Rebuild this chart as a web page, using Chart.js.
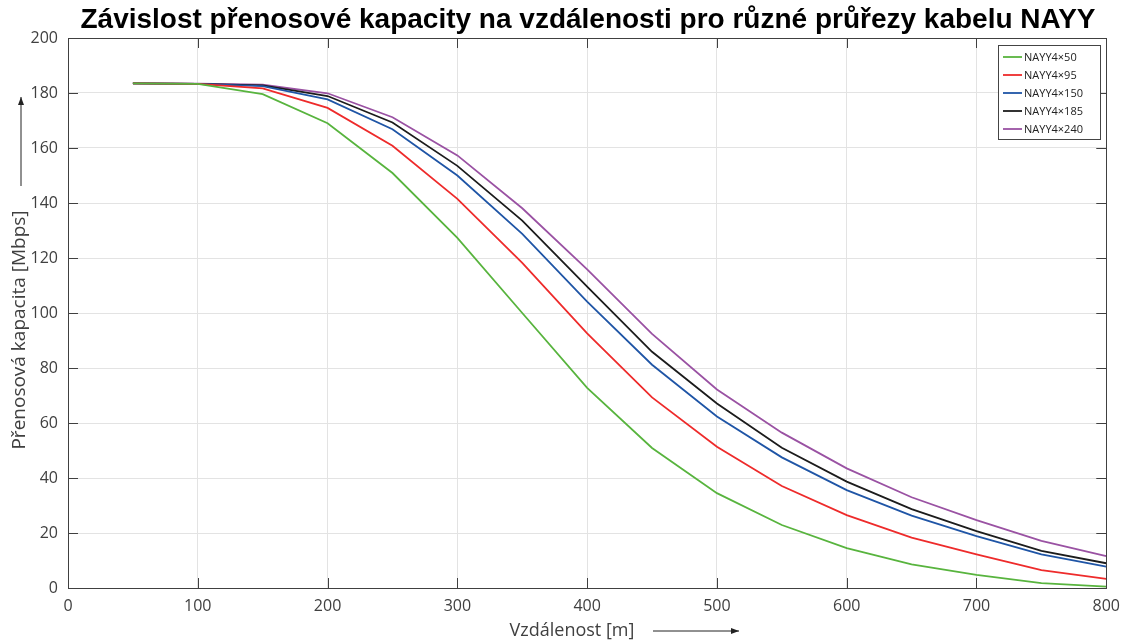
<!DOCTYPE html>
<html>
<head>
<meta charset="utf-8">
<script src="https://cdn.jsdelivr.net/npm/chart.js@4/dist/chart.umd.min.js"></script>
<style>
  html, body { margin: 0; padding: 0; background: #fff; }
  #wrap { width: 1129px; height: 642px; position: relative; }
</style>
</head>
<body>
<div id="wrap"><canvas id="chart"></canvas></div>
<script>
// distances [m]
const distances = [50, 100, 150, 200, 250, 300, 350, 400, 450, 500, 550, 600, 650, 700, 750, 800];

// capacity [Mbps] per cable cross-section
const nayy50  = [183.5, 183.3, 179.6, 169.0, 150.9, 127.3, 100.0, 72.8, 50.9, 34.5, 22.9, 14.5, 8.6, 4.8, 1.8, 0.5];
const nayy95  = [183.5, 183.3, 181.7, 174.6, 160.8, 141.5, 118.2, 92.6, 69.3, 51.4, 37.1, 26.5, 18.3, 12.2, 6.5, 3.3];
const nayy150 = [183.5, 183.3, 182.5, 177.7, 166.8, 150.0, 128.8, 104.1, 81.2, 62.4, 47.5, 35.6, 26.3, 18.9, 12.2, 7.8];
const nayy185 = [183.5, 183.3, 182.8, 178.9, 169.3, 153.5, 133.6, 109.6, 85.9, 67.1, 51.0, 38.7, 28.7, 20.7, 13.5, 9.0];
const nayy240 = [183.5, 183.4, 183.0, 179.9, 171.2, 157.3, 138.1, 115.9, 92.4, 72.2, 56.5, 43.5, 33.0, 24.7, 17.1, 11.6];

const seriesNames = ['NAYY4×50', 'NAYY4×95', 'NAYY4×150', 'NAYY4×185', 'NAYY4×240'];
const seriesColors = ['#58b43e', '#ee2b2b', '#1f55a6', '#1c1c1c', '#9a52a3'];
const seriesValues = [nayy50, nayy95, nayy150, nayy185, nayy240];

const xTicks = [0, 100, 200, 300, 400, 500, 600, 700, 800];
const yTicks = [0, 20, 40, 60, 80, 100, 120, 140, 160, 180, 200];

const titleText = 'Závislost přenosové kapacity na vzdálenosti pro různé průřezy kabelu NAYY';
const xLabel = 'Vzdálenost [m]';
const yLabel = 'Přenosová kapacita [Mbps]';

const labelFont = '"Open Sans", "Noto Sans", sans-serif';
const axisColor = '#404040';

const datasets = seriesNames.map((name, i) => ({
  label: name,
  data: distances.map((d, j) => ({ x: d, y: seriesValues[i][j] })),
  borderColor: seriesColors[i],
  backgroundColor: seriesColors[i],
  borderWidth: 1.8,
  pointRadius: 0,
  tension: 0,
  fill: false
}));

// box, inward ticks, title, axis labels with arrows, legend
const decorations = {
  id: 'decorations',
  afterDatasetsDraw(chart) {
    const { ctx, chartArea: a, scales: { x, y } } = chart;
    ctx.save();

    // box
    ctx.strokeStyle = axisColor;
    ctx.lineWidth = 1;
    ctx.strokeRect(Math.round(a.left) + 0.5, Math.round(a.top) + 0.5,
      Math.round(a.right - a.left), Math.round(a.bottom - a.top));

    // inward ticks
    const tl = 10;
    ctx.beginPath();
    xTicks.forEach(v => {
      const px = Math.round(x.getPixelForValue(v)) + 0.5;
      ctx.moveTo(px, a.bottom); ctx.lineTo(px, a.bottom - tl);
      ctx.moveTo(px, a.top); ctx.lineTo(px, a.top + tl);
    });
    yTicks.forEach(v => {
      const py = Math.round(y.getPixelForValue(v)) + 0.5;
      ctx.moveTo(a.left, py); ctx.lineTo(a.left + tl, py);
      ctx.moveTo(a.right, py); ctx.lineTo(a.right - tl, py);
    });
    ctx.stroke();

    // title
    ctx.fillStyle = '#000';
    ctx.font = 'bold 28px "Liberation Sans", Arial, sans-serif';
    ctx.textAlign = 'center';
    ctx.textBaseline = 'middle';
    ctx.fillText(titleText, 588, 20);

    // x label + arrow
    ctx.fillStyle = axisColor;
    ctx.font = '18px ' + labelFont;
    ctx.textAlign = 'center';
    ctx.fillText(xLabel, 572, 631);
    arrow(ctx, 653, 631, 739, 631);

    // y label + arrow
    ctx.font = '19px ' + labelFont;
    ctx.save();
    ctx.translate(20, 330);
    ctx.rotate(-Math.PI / 2);
    ctx.fillText(yLabel, 0, 0);
    ctx.restore();
    arrow(ctx, 21, 186, 21, 97);

    // legend
    const lx = 998, ly = 45, lw = 102, rowH = 18;
    const lh = rowH * chart.data.datasets.length + 4;
    ctx.fillStyle = '#fff';
    ctx.fillRect(lx, ly, lw, lh);
    ctx.strokeStyle = '#444';
    ctx.lineWidth = 1;
    ctx.strokeRect(lx + 0.5, ly + 0.5, lw, lh);
    ctx.font = '11px ' + labelFont;
    ctx.textAlign = 'left';
    chart.data.datasets.forEach((ds, i) => {
      const cy = ly + 12 + i * rowH;
      ctx.strokeStyle = ds.borderColor;
      ctx.lineWidth = 1.8;
      ctx.beginPath();
      ctx.moveTo(lx + 5, cy); ctx.lineTo(lx + 24, cy);
      ctx.stroke();
      ctx.fillStyle = '#222';
      ctx.fillText(ds.label, lx + 26, cy + 1);
    });

    ctx.restore();
  }
};

function arrow(ctx, x1, y1, x2, y2) {
  ctx.save();
  ctx.strokeStyle = '#222';
  ctx.fillStyle = '#222';
  ctx.lineWidth = 1;
  ctx.beginPath();
  ctx.moveTo(x1, y1); ctx.lineTo(x2, y2);
  ctx.stroke();
  const ang = Math.atan2(y2 - y1, x2 - x1);
  const len = 8, w = 3;
  ctx.beginPath();
  ctx.moveTo(x2, y2);
  ctx.lineTo(x2 - len * Math.cos(ang) + w * Math.sin(ang), y2 - len * Math.sin(ang) - w * Math.cos(ang));
  ctx.lineTo(x2 - len * Math.cos(ang) - w * Math.sin(ang), y2 - len * Math.sin(ang) + w * Math.cos(ang));
  ctx.closePath();
  ctx.fill();
  ctx.restore();
}

new Chart(document.getElementById('chart'), {
  type: 'line',
  data: { datasets },
  options: {
    responsive: true,
    maintainAspectRatio: false,
    animation: false,
    layout: { padding: { top: 38, right: 21, left: 0, bottom: 0 } },
    plugins: {
      legend: { display: false },
      tooltip: { enabled: false }
    },
    scales: {
      x: {
        type: 'linear',
        min: 0, max: 800,
        afterBuildTicks: s => { s.ticks = xTicks.map(v => ({ value: v })); },
        afterFit: s => { s.height = 54; },
        grid: { color: '#e3e3e3', drawTicks: false },
        border: { display: false },
        ticks: { color: axisColor, padding: 9, font: { family: labelFont, size: 16 }, maxRotation: 0 }
      },
      y: {
        min: 0, max: 200,
        afterBuildTicks: s => { s.ticks = yTicks.map(v => ({ value: v })); },
        afterFit: s => { s.width = 68; },
        grid: { color: '#e3e3e3', drawTicks: false },
        border: { display: false },
        ticks: { color: axisColor, padding: 10, font: { family: labelFont, size: 16 } }
      }
    }
  },
  plugins: [decorations]
});
</script>
</body>
</html>
